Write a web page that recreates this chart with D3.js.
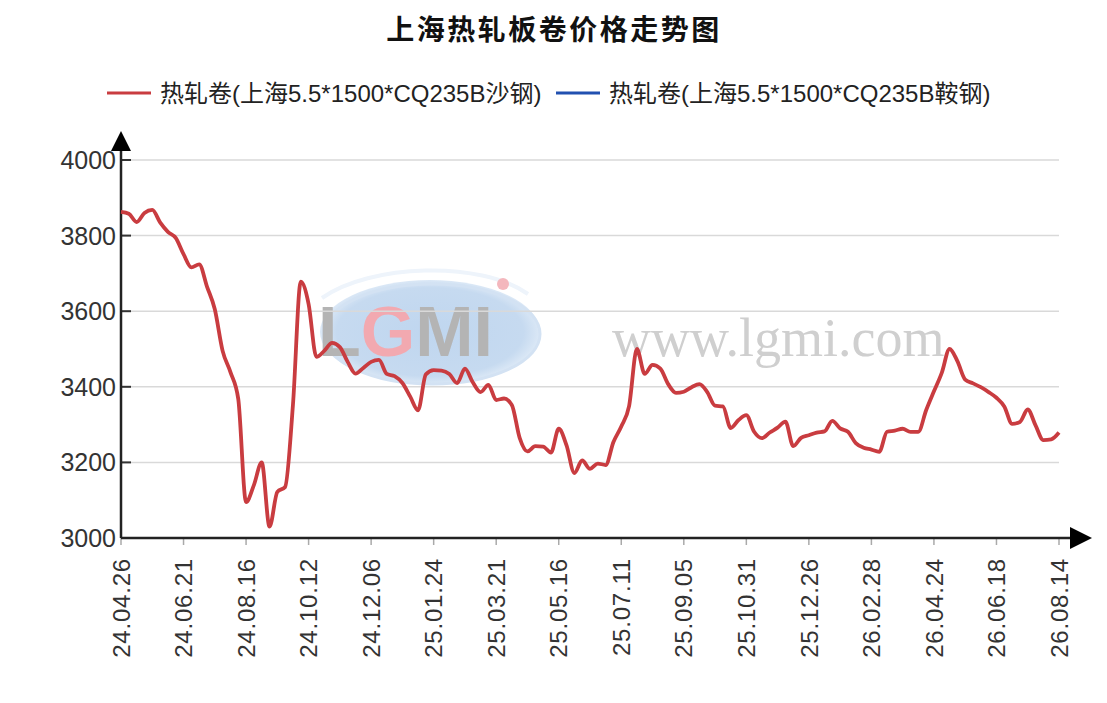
<!DOCTYPE html>
<html>
<head>
<meta charset="utf-8">
<script src="https://cdn.jsdelivr.net/npm/d3@7/dist/d3.min.js"></script>
<style>
  html, body { margin: 0; padding: 0; background: #fff; }
  svg { display: block; font-family: "Liberation Sans", Arial, "Noto Sans CJK SC", sans-serif; }
</style>
</head>
<body>
<div id="chart"></div>
<script>
// weekly prices, 8 weeks between two date labels
const tickLabels = ["24.04.26", "24.06.21", "24.08.16", "24.10.12", "24.12.06", "25.01.24", "25.03.21", "25.05.16",
  "25.07.11", "25.09.05", "25.10.31", "25.12.26", "26.02.28", "26.04.24", "26.06.18", "26.08.14"];
const weeksPerLabel = 8;

const shaGang = [
  3863, 3858, 3836, 3860, 3868, 3835, 3810, 3794, 3751, 3716, 3724, 3665, 3605, 3495, 3439, 3368,
  3095, 3140, 3200, 3030, 3122, 3135, 3353, 3678, 3619, 3479, 3495, 3516, 3505, 3466, 3435, 3450,
  3466, 3471, 3434, 3428, 3410, 3374, 3338, 3433, 3444, 3443, 3434, 3410, 3448, 3412, 3386, 3405,
  3365, 3369, 3352, 3265, 3229, 3243, 3242, 3226, 3289, 3245, 3172, 3205, 3183, 3197, 3193, 3254,
  3295, 3349, 3500, 3434, 3458, 3448, 3407, 3384, 3387, 3399, 3407, 3386, 3350, 3348, 3291, 3312,
  3325, 3281, 3264, 3279, 3292, 3308, 3243, 3265, 3272, 3279, 3282, 3310, 3290, 3281, 3251, 3239,
  3234, 3228, 3281, 3284, 3289, 3281, 3281, 3338, 3388, 3437, 3500, 3468, 3419, 3409, 3399, 3386,
  3371, 3348, 3302, 3307, 3340, 3298, 3259, 3261, 3279
];
const anGang = [];

const seriesNames = ["热轧卷(上海5.5*1500*CQ235B沙钢)", "热轧卷(上海5.5*1500*CQ235B鞍钢)"];
const seriesColors = ["#c93c40", "#2150b0"];
const titleText = "上海热轧板卷价格走势图";

const width = 1107, height = 703;
const svg = d3.select("#chart").append("svg")
  .attr("width", width)
  .attr("height", height);

svg.append("rect").attr("width", width).attr("height", height).attr("fill", "#fff");

const x = d3.scaleLinear().domain([0, shaGang.length - 1]).range([121, 1059]);
const y = d3.scaleLinear().domain([3000, 4000]).range([538, 160]);

// watermark
const wm = svg.append("g").attr("class", "watermark");
const grad = svg.append("defs").append("radialGradient").attr("id", "wmGrad");
grad.append("stop").attr("offset", "0%").attr("stop-color", "#bfd6ef");
grad.append("stop").attr("offset", "85%").attr("stop-color", "#c6daf0");
grad.append("stop").attr("offset", "100%").attr("stop-color", "#dbe8f6");
wm.append("ellipse").attr("cx", 430).attr("cy", 332).attr("rx", 110).attr("ry", 52)
  .attr("fill", "url(#wmGrad)");
wm.append("ellipse").attr("cx", 432).attr("cy", 334).attr("rx", 108).attr("ry", 50)
  .attr("fill", "none").attr("stroke", "#d3e2f3").attr("stroke-width", 3);
wm.append("path")
  .attr("d", "M322,298 C370,264 480,260 528,294")
  .attr("fill", "none").attr("stroke", "#eef4fb").attr("stroke-width", 4);
const logo = wm.append("text").attr("x", 318).attr("y", 356)
  .style("font-family", "'Liberation Sans', Arial, sans-serif")
  .style("font-size", "70px").style("font-weight", "bold");
logo.append("tspan").attr("fill", "#b4b4b4").text("L");
logo.append("tspan").attr("fill", "#f2a9b0").text("G");
logo.append("tspan").attr("fill", "#b4b4b4").text("MI");
wm.append("circle").attr("cx", 503).attr("cy", 284).attr("r", 6).attr("fill", "#f4b7bd");
wm.append("text").attr("x", 612).attr("y", 356)
  .style("font-family", "'Liberation Serif', 'Times New Roman', serif")
  .style("font-size", "54px")
  .attr("fill", "#cfcfcf")
  .text("www.lgmi.com");

// gridlines
const yTicks = y.ticks(5);
svg.append("g").selectAll("line")
  .data(yTicks.filter(d => d > 3000))
  .join("line")
  .attr("x1", x.range()[0]).attr("x2", x.range()[1])
  .attr("y1", d => y(d)).attr("y2", d => y(d))
  .attr("stroke", "#d9d9d9").attr("stroke-width", 1.5);

// y ticks (inner, dark)
svg.append("g").selectAll("line")
  .data(yTicks)
  .join("line")
  .attr("x1", x.range()[0]).attr("x2", x.range()[0] + 10)
  .attr("y1", d => y(d)).attr("y2", d => y(d))
  .attr("stroke", "#333").attr("stroke-width", 2);

svg.append("g").selectAll("text")
  .data(yTicks)
  .join("text")
  .attr("x", x.range()[0] - 5)
  .attr("y", d => y(d))
  .attr("dy", "0.36em")
  .attr("text-anchor", "end")
  .attr("fill", "#333")
  .style("font-size", "25px")
  .text(d => d);

// x ticks
const xTickIdx = tickLabels.map((_, i) => i * weeksPerLabel);
svg.append("g").selectAll("line")
  .data(xTickIdx)
  .join("line")
  .attr("x1", d => x(d)).attr("x2", d => x(d))
  .attr("y1", y.range()[0]).attr("y2", y.range()[0] + 7)
  .attr("stroke", "#aaa").attr("stroke-width", 1.5);

svg.append("g").selectAll("text")
  .data(tickLabels)
  .join("text")
  .attr("transform", (d, i) => `translate(${x(xTickIdx[i])},${y.range()[0] + 20}) rotate(-90)`)
  .attr("dy", "0.36em")
  .attr("text-anchor", "end")
  .attr("fill", "#333")
  .style("font-size", "24px")
  .style("letter-spacing", "0.8px")
  .text(d => d);

// axes with arrows
const x0 = x.range()[0], yb = y.range()[0];
svg.append("line").attr("x1", x0).attr("x2", x0).attr("y1", yb).attr("y2", y.range()[1] - 10)
  .attr("stroke", "#222").attr("stroke-width", 2.5);
svg.append("line").attr("x1", x0).attr("x2", x.range()[1] + 12).attr("y1", yb).attr("y2", yb)
  .attr("stroke", "#222").attr("stroke-width", 2.5);
svg.append("path")
  .attr("d", `M${x0},${y.range()[1] - 29} L${x0 - 10},${y.range()[1] - 9} L${x0 + 10},${y.range()[1] - 9} Z`)
  .attr("fill", "#000");
svg.append("path")
  .attr("d", `M${x.range()[1] + 33},${yb} L${x.range()[1] + 11},${yb - 11} L${x.range()[1] + 11},${yb + 11} Z`)
  .attr("fill", "#000");

// series line
const line = d3.line()
  .x((d, i) => x(i))
  .y(d => y(d))
  .curve(d3.curveMonotoneX);

[shaGang, anGang].forEach((s, k) => {
  if (!s.length) return;
  svg.append("path")
    .datum(s)
    .attr("d", line)
    .attr("fill", "none")
    .attr("stroke", seriesColors[k])
    .attr("stroke-width", 3.8)
    .attr("stroke-linejoin", "round");
});

// title
svg.append("text")
  .attr("x", 554).attr("y", 40)
  .attr("text-anchor", "middle")
  .attr("fill", "#111")
  .style("font-family", "'Noto Sans CJK SC', sans-serif")
  .style("font-size", "28px")
  .style("font-weight", "bold")
  .style("letter-spacing", "2.5px")
  .text(titleText);

// legend
const legendX = [107, 556];
const legend = svg.append("g").selectAll("g")
  .data(seriesNames)
  .join("g")
  .attr("transform", (d, i) => `translate(${legendX[i]},93)`);
legend.append("line")
  .attr("x1", 0).attr("x2", 44)
  .attr("stroke", (d, i) => seriesColors[i]).attr("stroke-width", 3);
legend.append("text")
  .attr("x", 53).attr("dy", "0.36em")
  .attr("fill", "#222")
  .style("font-size", "24px")
  .text(d => d);
</script>
</body>
</html>
